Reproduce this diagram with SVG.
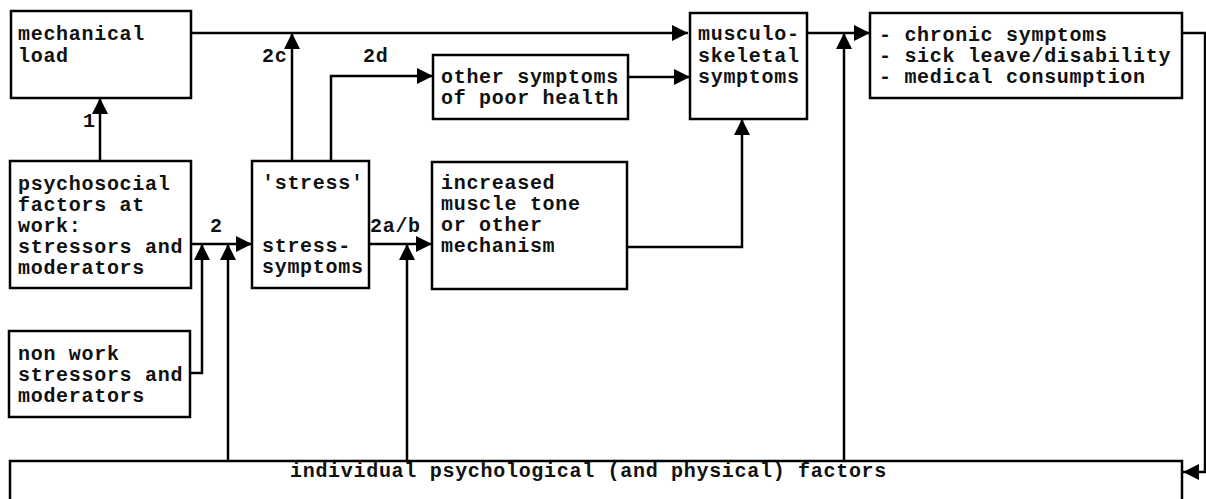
<svg xmlns="http://www.w3.org/2000/svg" width="1206" height="499" viewBox="0 0 1206 499">
<defs>
<marker id="ah" markerUnits="userSpaceOnUse" markerWidth="18" markerHeight="18" viewBox="0 0 18 18" refX="17" refY="9" orient="auto">
<path d="M1,1 L17,9 L1,17 Z" fill="#000"/>
</marker>
<style>
.box{fill:#fff;stroke:#000;stroke-width:2.5}
.c{fill:none;stroke:#000;stroke-width:2.5;marker-end:url(#ah)}
text{font-family:"Liberation Mono","Courier New",monospace;font-size:20px;letter-spacing:0.7px;font-weight:bold;fill:#111}
</style>
</defs>
<rect width="1206" height="499" fill="#fff"/>
<g id="connectors">
<path class="c" d="M191,33 H688"/>
<path class="c" d="M100,161 V98"/>
<path class="c" d="M292,161 V33"/>
<path class="c" d="M331,161 V76 H433"/>
<path class="c" d="M628,77 H690"/>
<path class="c" d="M807,33 H870"/>
<path class="c" d="M1182,33 H1205 V472 H1183"/>
<path class="c" d="M191,244 H252"/>
<path class="c" d="M190,373 H202 V244"/>
<path class="c" d="M228,461 V244"/>
<path class="c" d="M369,244 H432"/>
<path class="c" d="M407,461 V244"/>
<path class="c" d="M627,247 H742 V119"/>
<path class="c" d="M844,461 V33"/>
<text x="83" y="127">1</text>
<text x="262" y="62">2c</text>
<text x="363" y="62">2d</text>
<text x="210" y="232">2</text>
<text x="370" y="232">2a/b</text>
</g>
<g id="mechanical">
<rect class="box" x="11" y="11" width="180" height="87"/>
<text x="18" y="40">mechanical</text>
<text x="18" y="62">load</text>
</g>
<g id="psychosocial">
<rect class="box" x="10" y="161" width="181" height="127"/>
<text x="18" y="190">psychosocial</text>
<text x="18" y="211">factors at</text>
<text x="18" y="232">work:</text>
<text x="18" y="253">stressors and</text>
<text x="18" y="274">moderators</text>
</g>
<g id="nonwork">
<rect class="box" x="9" y="331" width="181" height="86"/>
<text x="18" y="360">non work</text>
<text x="18" y="381">stressors and</text>
<text x="18" y="402">moderators</text>
</g>
<g id="stress">
<rect class="box" x="252" y="161" width="117" height="127"/>
<text x="262" y="189">'stress'</text>
<text x="262" y="252">stress-</text>
<text x="262" y="273">symptoms</text>
</g>
<g id="other">
<rect class="box" x="433" y="55" width="195" height="64"/>
<text x="441" y="83">other symptoms</text>
<text x="441" y="104">of poor health</text>
</g>
<g id="increased">
<rect class="box" x="432" y="162" width="195" height="127"/>
<text x="441" y="189">increased</text>
<text x="441" y="210">muscle tone</text>
<text x="441" y="231">or other</text>
<text x="441" y="252">mechanism</text>
</g>
<g id="musculo">
<rect class="box" x="690" y="13" width="117" height="106"/>
<text x="698" y="40">musculo-</text>
<text x="698" y="62">skeletal</text>
<text x="698" y="83">symptoms</text>
</g>
<g id="chronic">
<rect class="box" x="870" y="13" width="312" height="85"/>
<text x="879" y="41">- chronic symptoms</text>
<text x="879" y="62">- sick leave/disability</text>
<text x="879" y="83">- medical consumption</text>
</g>
<g id="individual">
<rect class="box" x="10" y="461" width="1172" height="50"/>
<text x="290" y="477">individual psychological (and physical) factors</text>
</g>
</svg>
